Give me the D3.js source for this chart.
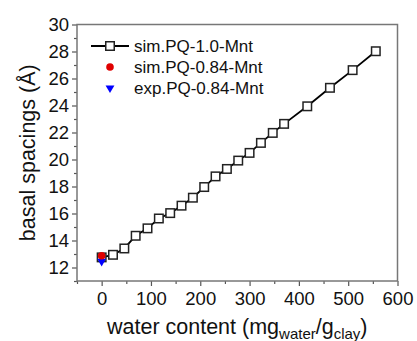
<!DOCTYPE html>
<html>
<head>
<meta charset="utf-8">
<script src="https://cdn.jsdelivr.net/npm/d3@7/dist/d3.min.js"></script>
<style>
  body { margin: 0; background: #fff; }
  svg { display: block; font-family: "Liberation Sans", Arial, sans-serif; }
</style>
</head>
<body>
<div id="chart"></div>
<script>
// water content (mg water / g clay) and basal spacing (Å)
const waterContent = [0, 23, 46, 69, 93, 116, 139, 162, 185, 208, 231, 254, 277, 300, 323, 347, 370, 417, 463, 509, 556];
const spacingSim10 = [12.75, 12.94, 13.41, 14.35, 14.9, 15.63, 16.03, 16.58, 17.17, 17.96, 18.75, 19.3, 19.92, 20.49, 21.23, 21.97, 22.64, 23.94, 25.31, 26.62, 28.02];
const sim084 = [{x: 0, y: 12.87}];
const exp084 = [{x: 0, y: 12.45}];
const seriesNames = ["sim.PQ-1.0-Mnt", "sim.PQ-0.84-Mnt", "exp.PQ-0.84-Mnt"];
const xTicks = [0, 100, 200, 300, 400, 500, 600];
const yTicks = [12, 14, 16, 18, 20, 22, 24, 26, 28, 30];

const W = 417, H = 341;
const margin = {left: 77, top: 24.5, right: 19.5, bottom: 60};
const iw = W - margin.left - margin.right;
const ih = H - margin.top - margin.bottom;

const svg = d3.select("#chart").append("svg")
  .attr("width", W)
  .attr("height", H);

const g = svg.append("g")
  .attr("transform", `translate(${margin.left},${margin.top})`);

const x = d3.scaleLinear().domain([-50, 600]).range([0, iw]);
const y = d3.scaleLinear().domain([11, 30]).range([ih, 0]);

const axisColor = "#555";

// minor ticks
g.append("g")
  .attr("transform", `translate(0,${ih})`)
  .call(d3.axisBottom(x).tickValues(d3.range(-50, 601, 100)).tickSize(3).tickFormat(""))
  .call(s => s.select(".domain").remove())
  .selectAll("line").attr("stroke", axisColor).attr("stroke-width", 1.2);

g.append("g")
  .call(d3.axisLeft(y).tickValues(d3.range(11, 30, 2)).tickSize(3).tickFormat(""))
  .call(s => s.select(".domain").remove())
  .selectAll("line").attr("stroke", axisColor).attr("stroke-width", 1.2);

// major ticks
const xAxis = g.append("g")
  .attr("transform", `translate(0,${ih})`)
  .call(d3.axisBottom(x).tickValues(xTicks).tickSize(5).tickPadding(6));
xAxis.select(".domain").remove();
xAxis.selectAll("line").attr("stroke", axisColor).attr("stroke-width", 1.2);
xAxis.selectAll("text").attr("font-size", 18.5).attr("fill", "#111")
  .attr("font-family", "Liberation Sans, Arial, sans-serif");

const yAxis = g.append("g")
  .call(d3.axisLeft(y).tickValues(yTicks).tickSize(5).tickPadding(3));
yAxis.select(".domain").remove();
yAxis.selectAll("line").attr("stroke", axisColor).attr("stroke-width", 1.2);
yAxis.selectAll("text").attr("font-size", 18.5).attr("fill", "#111")
  .attr("font-family", "Liberation Sans, Arial, sans-serif");

// frame
g.append("rect")
  .attr("x", 0).attr("y", 0)
  .attr("width", iw).attr("height", ih)
  .attr("fill", "none")
  .attr("stroke", "#777")
  .attr("stroke-width", 1.5);

// main series
const pts = waterContent.map((d, i) => ({x: d, y: spacingSim10[i]}));
const line = d3.line().x(d => x(d.x)).y(d => y(d.y));

g.append("path")
  .datum(pts)
  .attr("d", line)
  .attr("fill", "none")
  .attr("stroke", "#000")
  .attr("stroke-width", 1.8);

const sq = 8.5;
g.selectAll("rect.pt")
  .data(pts)
  .enter().append("rect")
  .attr("class", "pt")
  .attr("x", d => x(d.x) - sq / 2)
  .attr("y", d => y(d.y) - sq / 2)
  .attr("width", sq).attr("height", sq)
  .attr("fill", "#fff")
  .attr("stroke", "#222")
  .attr("stroke-width", 1.5);

const tri = d3.symbol().type(d3.symbolTriangle).size(34);

g.selectAll("path.exp")
  .data(exp084)
  .enter().append("path")
  .attr("class", "exp")
  .attr("d", tri)
  .attr("transform", d => `translate(${x(d.x)},${y(d.y)}) rotate(180)`)
  .attr("fill", "#0000ff");

g.selectAll("circle.sim")
  .data(sim084)
  .enter().append("circle")
  .attr("class", "sim")
  .attr("cx", d => x(d.x))
  .attr("cy", d => y(d.y))
  .attr("r", 3.8)
  .attr("fill", "#e00000");

// legend
const legend = svg.append("g").attr("transform", "translate(110,46)");
const rowGap = 21;
legend.append("line")
  .attr("x1", -19).attr("x2", 19).attr("y1", 0).attr("y2", 0)
  .attr("stroke", "#000").attr("stroke-width", 1.8);
legend.append("rect")
  .attr("x", -sq / 2).attr("y", -sq / 2)
  .attr("width", sq).attr("height", sq)
  .attr("fill", "#fff").attr("stroke", "#222").attr("stroke-width", 1.5);
legend.append("circle")
  .attr("cx", 0).attr("cy", rowGap).attr("r", 3.8).attr("fill", "#e00000");
legend.append("path")
  .attr("d", tri)
  .attr("transform", `translate(0,${rowGap * 2}) rotate(180)`)
  .attr("fill", "#0000ff");
legend.selectAll("text")
  .data(seriesNames)
  .enter().append("text")
  .attr("x", 24)
  .attr("y", (d, i) => i * rowGap)
  .attr("dy", "0.35em")
  .attr("font-size", 17)
  .attr("fill", "#111")
  .text(d => d);

// axis titles
const xt = svg.append("text")
  .attr("x", margin.left + iw / 2)
  .attr("y", 334)
  .attr("text-anchor", "middle")
  .attr("font-size", 21.5)
  .attr("fill", "#111");
xt.append("tspan").text("water content (mg");
xt.append("tspan").attr("font-size", 15).attr("dy", 5).text("water");
xt.append("tspan").attr("dy", -5).text("/g");
xt.append("tspan").attr("font-size", 15).attr("dy", 5).text("clay");
xt.append("tspan").attr("dy", -5).text(")");

svg.append("text")
  .attr("transform", `translate(35,${margin.top + ih / 2}) rotate(-90)`)
  .attr("text-anchor", "middle")
  .attr("font-size", 21.5)
  .attr("fill", "#111")
  .text("basal spacings (Å)");
</script>
</body>
</html>
